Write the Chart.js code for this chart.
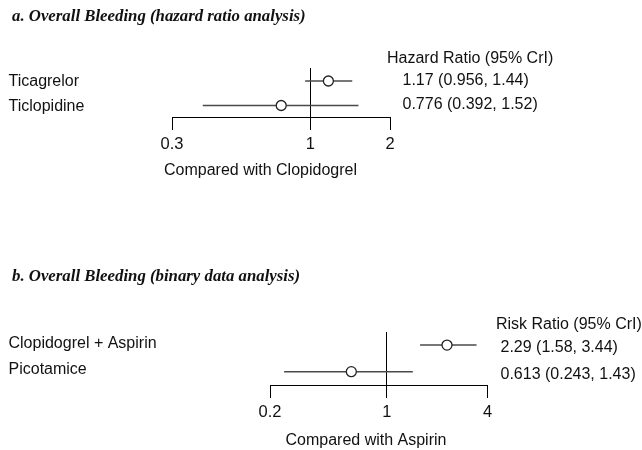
<!DOCTYPE html>
<html><head><meta charset="utf-8">
<script src="https://cdn.jsdelivr.net/npm/chart.js@4"></script>
<style>
html,body{margin:0;padding:0;background:#fff;}
#wrap{position:relative;width:642px;height:450px;overflow:hidden;background:#fff;}
canvas{position:absolute;left:0;}
</style></head><body>
<div id="wrap">
<canvas id="ca" width="642" height="225" style="top:0"></canvas>
<canvas id="cb" width="642" height="225" style="top:225px"></canvas>
</div>
<script>
// ---- Panel a: hazard ratio analysis ----
const aTitle = 'a. Overall Bleeding (hazard ratio analysis)';
const aCategories = ['Ticagrelor', 'Ticlopidine'];
const aEstimate = [1.17, 0.776];
const aLower = [0.956, 0.392];
const aUpper = [1.44, 1.52];
const aTicks = [0.3, 1, 2];
const aTickLabels = ['0.3', '1', '2'];
const aHeader = 'Hazard Ratio (95% CrI)';
const aSummary = ['1.17 (0.956, 1.44)', '0.776 (0.392, 1.52)'];
const aAxisTitle = 'Compared with Clopidogrel';

// ---- Panel b: binary data analysis ----
const bTitle = 'b. Overall Bleeding (binary data analysis)';
const bCategories = ['Clopidogrel + Aspirin', 'Picotamice'];
const bEstimate = [2.29, 0.613];
const bLower = [1.58, 0.243];
const bUpper = [3.44, 1.43];
const bTicks = [0.2, 1, 4];
const bTickLabels = ['0.2', '1', '4'];
const bHeader = 'Risk Ratio (95% CrI)';
const bSummary = ['2.29 (1.58, 3.44)', '0.613 (0.243, 1.43)'];
const bAxisTitle = 'Compared with Aspirin';

const SANS = '"Liberation Sans", Arial, sans-serif';
const SERIF = '"Liberation Serif", "Times New Roman", serif';
const TEXT_COLOR = '#111';

function drawT(ctx, text, x, y, font) {
  ctx.save();
  ctx.font = font;
  ctx.fillStyle = TEXT_COLOR;
  ctx.textAlign = 'left';
  ctx.textBaseline = 'alphabetic';
  ctx.fillText(text, x, y);
  ctx.restore();
}

function makeChart(id, cfg) {
  const datasets = [];
  cfg.cats.forEach((c, i) => {
    datasets.push({
      label: c + ' CrI',
      data: [{x: cfg.lower[i], y: i + 1}, {x: cfg.upper[i], y: i + 1}],
      showLine: true, borderColor: '#4a4a4a', borderWidth: 1.6,
      pointRadius: 0, pointHoverRadius: 0, order: 2
    });
  });
  datasets.push({
    label: 'Estimate',
    data: cfg.est.map((v, i) => ({x: v, y: i + 1})),
    pointRadius: 5, pointHoverRadius: 5,
    pointBackgroundColor: '#fff', pointBorderColor: '#222', pointBorderWidth: 1.3,
    order: 1
  });

  const textPlugin = {
    id: 'forestText' + id,
    afterDraw(chart) {
      const ctx = chart.ctx;
      const ys = chart.scales.y;
      const f = '16px ' + SANS;
      drawT(ctx, cfg.title, 12, cfg.titleY, 'italic bold 16.8px ' + SERIF);
      drawT(ctx, cfg.header, cfg.headerX, cfg.headerY, f);
      cfg.cats.forEach((c, i) => {
        const yp = ys.getPixelForValue(i + 1);
        drawT(ctx, c, 8.5, yp + cfg.labOff, f);
        drawT(ctx, cfg.summary[i], cfg.sumX, yp + cfg.sumOff, f);
      });
      drawT(ctx, cfg.axisTitle, cfg.capX, cfg.capY, f);
    }
  };

  return new Chart(document.getElementById(id), {
    type: 'scatter',
    data: {datasets},
    options: {
      responsive: false, animation: false, events: [],
      layout: {padding: cfg.pad},
      plugins: {legend: {display: false}, tooltip: {enabled: false}},
      scales: {
        x: {
          type: 'logarithmic', position: 'bottom', bounds: 'data',
          min: cfg.ticks[0], max: cfg.ticks[cfg.ticks.length - 1],
          afterBuildTicks: (s) => { s.ticks = cfg.ticks.map(v => ({value: v})); },
          afterFit: (s) => { s.height = 50; },
          grid: {
            drawOnChartArea: true,
            color: (c) => (c.tick && c.tick.value === 1) ? '#000' : 'rgba(0,0,0,0)',
            lineWidth: 1, tickLength: 13, tickColor: '#000', tickWidth: 1
          },
          border: {display: true, color: '#000', width: 1},
          ticks: {
            color: TEXT_COLOR, font: {family: SANS, size: 16.5}, padding: 5,
            maxRotation: 0, minRotation: 0, autoSkip: false,
            callback: (v) => { const k = cfg.ticks.indexOf(v); return k >= 0 ? cfg.tickLabels[k] : ''; }
          }
        },
        y: {type: 'linear', display: false, reverse: true, min: cfg.ymin, max: cfg.ymax}
      }
    },
    plugins: [textPlugin]
  });
}

makeChart('ca', {
  cats: aCategories, est: aEstimate, lower: aLower, upper: aUpper,
  ticks: aTicks, tickLabels: aTickLabels, title: aTitle, header: aHeader,
  summary: aSummary, axisTitle: aAxisTitle,
  pad: {left: 172, right: 252, top: 68, bottom: 58},
  ymin: 0.47, ymax: 2.47,
  titleY: 20.7, headerX: 387, headerY: 62.5, sumX: 402.5, sumOff: 3.7, labOff: 5.3,
  capX: 164, capY: 175
});

makeChart('cb', {
  cats: bCategories, est: bEstimate, lower: bLower, upper: bUpper,
  ticks: bTicks, tickLabels: bTickLabels, title: bTitle, header: bHeader,
  summary: bSummary, axisTitle: bAxisTitle,
  pad: {left: 270, right: 154.5, top: 107, bottom: 15},
  ymin: 0.51, ymax: 2.5,
  titleY: 55.7, headerX: 496, headerY: 104, sumX: 500.5, sumOff: 7.3, labOff: 2.5,
  capX: 285.5, capY: 220
});
</script>
</body></html>
